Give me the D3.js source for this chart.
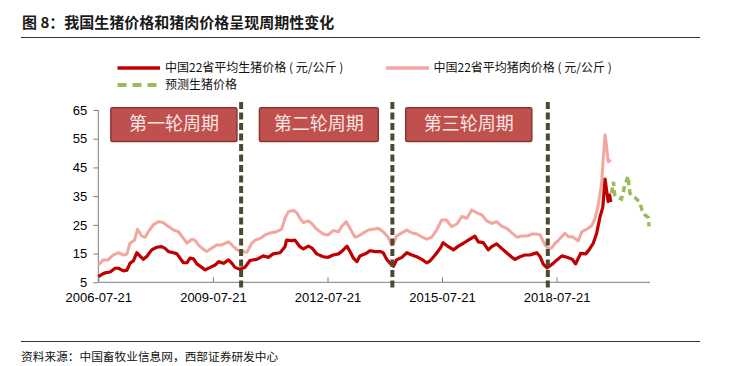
<!DOCTYPE html>
<html><head><meta charset="utf-8">
<script src="https://cdn.jsdelivr.net/npm/d3@7"></script>
<style>
html,body{margin:0;padding:0;background:#fff;}
svg{display:block;}
.cjk{font-family:"Noto Sans CJK SC","Noto Sans",sans-serif;}
.num{font-family:"Liberation Sans",Arial,sans-serif;}
</style></head>
<body>
<svg id="chart" width="742" height="366"></svg>
<script>
// ---- data (decimal years) ----
const hogYears = [
 2006.55,2006.68,2006.73,2006.86,2006.99,
 2007.08,2007.21,2007.30,2007.38,2007.47,2007.56,2007.64,2007.73,2007.82,2007.95,
 2008.08,2008.21,2008.30,2008.39,2008.52,2008.61,2008.69,2008.78,2008.87,2008.95,
 2009.04,2009.13,2009.26,2009.35,2009.48,2009.61,2009.70,2009.83,2009.96,
 2010.05,2010.13,2010.26,2010.34,2010.39,2010.52,2010.70,2010.87,
 2011.00,2011.13,2011.31,2011.44,2011.48,2011.62,2011.70,2011.83,2011.92,
 2012.05,2012.14,2012.27,2012.44,2012.57,2012.70,2012.84,2012.92,
 2013.06,2013.14,2013.23,2013.32,2013.40,2013.54,2013.67,2013.80,2013.93,
 2014.01,2014.10,2014.23,2014.28,2014.36,2014.50,2014.63,2014.76,2014.89,
 2015.02,2015.15,2015.24,2015.37,2015.50,2015.58,2015.72,2015.85,2015.98,
 2016.11,2016.24,2016.41,2016.50,2016.63,2016.76,2016.85,2016.98,
 2017.11,2017.24,2017.38,2017.46,2017.59,2017.72,2017.85,2017.94,
 2018.03,2018.12,2018.20,2018.30,2018.46,2018.56,2018.69,2018.82,2018.96,
 2019.05,2019.18,2019.31,2019.40,2019.51,2019.60,2019.69,2019.76,2019.82,2019.85,2019.90,2019.94,2019.97];
const hogValues = [
 7.0,8.0,8.3,8.6,9.9,
 9.9,9.0,9.2,11.6,12.5,15.3,14.2,13.0,14.0,16.3,
 17.2,17.4,16.8,15.7,15.3,14.9,13.4,11.8,11.8,13.4,
 13.2,11.4,10.2,9.3,10.2,11.0,12.2,11.6,12.8,
 11.6,10.2,9.5,10.0,10.2,12.6,13.0,14.2,
 13.7,14.9,15.3,17.4,19.7,19.5,19.7,17.4,16.6,
 17.6,17.0,14.9,13.9,13.7,14.5,14.9,15.7,
 17.6,15.7,13.4,12.2,14.2,14.9,16.0,15.7,15.7,
 15.3,13.0,11.0,10.6,12.8,13.7,15.3,14.5,13.9,
 13.0,11.8,12.5,14.5,16.8,18.8,17.4,16.3,17.6,
 18.6,19.7,21.1,19.1,18.8,16.3,17.4,18.4,
 16.8,15.3,13.7,13.0,13.9,14.5,14.5,14.9,
 15.3,13.9,11.3,10.0,11.6,12.8,14.2,13.7,13.0,
 11.4,15.1,14.9,16.3,18.6,22.1,27.9,31.1,40.9,38.0,33.1,35.4,33.0];

const porkYears = [
 2006.55,2006.68,2006.81,2006.94,
 2007.08,2007.21,2007.30,2007.38,2007.50,2007.58,2007.69,2007.78,2007.86,2007.99,
 2008.12,2008.25,2008.39,2008.52,2008.65,2008.78,2008.87,
 2009.00,2009.08,2009.17,2009.30,2009.39,2009.52,2009.65,2009.78,2009.96,
 2010.05,2010.18,2010.31,2010.44,2010.57,2010.66,2010.79,2010.92,
 2011.05,2011.22,2011.35,2011.44,2011.53,2011.66,2011.75,2011.83,2011.92,
 2012.05,2012.14,2012.27,2012.44,2012.57,2012.70,2012.84,2012.92,
 2013.04,2013.14,2013.27,2013.36,2013.49,2013.62,2013.75,2013.88,
 2014.01,2014.14,2014.23,2014.28,2014.36,2014.50,2014.63,2014.76,2014.89,
 2015.02,2015.15,2015.28,2015.41,2015.54,2015.67,2015.80,2015.94,
 2016.07,2016.20,2016.33,2016.46,2016.59,2016.72,2016.85,2016.98,
 2017.11,2017.24,2017.38,2017.51,2017.64,2017.77,2017.90,
 2018.03,2018.12,2018.16,2018.25,2018.33,2018.42,2018.51,2018.59,2018.64,2018.77,2018.86,2018.96,
 2019.12,2019.21,2019.34,2019.47,2019.56,2019.64,2019.73,2019.77,2019.82,2019.86,2019.90,2019.97];
const porkValues = [
 11.0,12.8,12.8,14.5,
 15.3,14.5,14.8,18.6,19.7,23.5,21.1,20.7,22.6,25.0,
 26.1,25.8,24.4,23.2,22.6,20.3,18.6,
 20.0,19.7,18.0,16.5,15.7,16.9,18.0,18.0,19.1,
 18.0,16.3,15.7,15.5,18.6,19.7,20.3,21.5,
 22.2,22.6,23.5,27.3,29.6,30.0,29.2,27.3,25.8,
 26.4,25.5,23.5,21.8,21.5,23.0,22.6,24.4,
 26.1,23.8,20.7,21.1,22.2,23.2,23.5,23.8,
 22.6,20.7,18.0,18.5,21.1,22.2,23.2,22.2,21.8,
 20.8,20.0,20.7,23.2,26.7,26.7,24.4,25.3,
 27.9,27.3,30.2,29.2,28.5,26.4,25.5,26.1,
 24.6,23.8,22.2,20.7,21.1,21.1,21.8,
 21.8,21.5,20.3,18.0,16.8,17.0,18.6,19.5,20.3,22.1,20.9,20.9,
 19.5,22.6,23.5,24.7,27.3,31.9,39.5,47.6,56.3,52.2,47.0,47.6];

const forecastYears = [2019.99,2020.04,2020.07,2020.17,2020.25,2020.33,2020.42,2020.47,2020.60,2020.72,2020.79,2020.86,2020.95,2020.97];
const forecastValues = [36.0,40.0,35.5,34.5,34.0,38.5,42.0,36.0,34.5,33.0,30.0,28.5,27.5,24.5];

const xTickLabels = ["2006-07-21","2009-07-21","2012-07-21","2015-07-21","2018-07-21"];
const yTickValues = [5,15,25,35,45,55,65];
const cycleNames = ["第一轮周期","第二轮周期","第三轮周期"];
const cycleStart = [2006.88, 2010.77, 2014.60];
const cycleEnd   = [2010.18, 2013.88, 2017.90];
const dividerYears = [2010.29, 2014.25, 2018.32];

const seriesNames = ["中国22省平均生猪价格 ( 元/公斤 )","中国22省平均猪肉价格 ( 元/公斤 )","预测生猪价格"];
const colors = {hog:"#c00000", pork:"#f3a6a0", fc:"#9bbb59", div:"#4b4a33", box:"#c0504d"};

// ---- helpers ----
function yrToDate(y){
  const yr = Math.floor(y);
  const a = new Date(yr,0,1), b = new Date(yr+1,0,1);
  return new Date(+a + (y-yr)*(b-a));
}
const parse = d3.timeParse("%Y-%m-%d");
const zip = (ys, vs) => ys.map((y,i)=>({d:yrToDate(y), v:vs[i]}));

const svg = d3.select("#chart");
svg.append("rect").attr("width",742).attr("height",366).attr("fill","#fff");

const x = d3.scaleTime().domain([parse("2006-07-21"), parse("2020-12-30")]).range([98.3, 650]);
const y = d3.scaleLinear().domain([5,65]).range([282.3,110]);

// title
svg.append("text").attr("class","cjk").attr("x",22).attr("y",28)
  .attr("font-size",15).attr("font-weight","bold").attr("fill","#1a1a1a")
  .text("图 8：我国生猪价格和猪肉价格呈现周期性变化");
svg.append("line").attr("x1",21).attr("x2",700).attr("y1",37.5).attr("y2",37.5)
  .attr("stroke","#333").attr("stroke-width",1);

// legend
const lg = svg.append("g");
lg.append("line").attr("x1",117.5).attr("x2",160).attr("y1",68).attr("y2",68).attr("stroke",colors.hog).attr("stroke-width",3.5);
lg.append("text").attr("class","cjk").attr("x",165).attr("y",72.3).attr("font-size",12).attr("fill","#111").attr("xml:space","preserve").text(seriesNames[0]);
lg.append("line").attr("x1",386).attr("x2",429).attr("y1",68).attr("y2",68).attr("stroke",colors.pork).attr("stroke-width",3.5);
lg.append("text").attr("class","cjk").attr("x",433.5).attr("y",72.3).attr("font-size",12).attr("fill","#111").attr("xml:space","preserve").text(seriesNames[1]);
lg.append("line").attr("x1",117.5).attr("x2",157).attr("y1",85).attr("y2",85).attr("stroke",colors.fc).attr("stroke-width",4).attr("stroke-dasharray","9,6");
lg.append("text").attr("class","cjk").attr("x",165).attr("y",89.3).attr("font-size",12).attr("fill","#111").text(seriesNames[2]);

// axes
const yAxis = svg.append("g").attr("transform","translate(98.3,0)")
  .call(d3.axisLeft(y).tickValues(yTickValues).tickSize(5).tickPadding(6).tickFormat(d3.format("d")));
const xAxis = svg.append("g").attr("transform","translate(0,282.3)")
  .call(d3.axisBottom(x).tickValues(xTickLabels.map(parse)).tickSize(-5).tickPadding(10)
        .tickFormat((d,i)=>xTickLabels[i]));
[yAxis,xAxis].forEach(g=>{
  g.selectAll("path").attr("stroke","#7f7f7f").attr("stroke-width",1);
  g.selectAll("line").attr("stroke","#7f7f7f");
  g.selectAll("text").attr("class","num").attr("font-size",13).attr("fill","#000");
});
yAxis.select(".domain").attr("d","M0,282.3V110");
xAxis.select(".domain").attr("d","M98.3,0H650");

// lines
const line = d3.line().x(d=>x(d.d)).y(d=>y(d.v)).curve(d3.curveLinear);
svg.append("path").datum(zip(porkYears,porkValues)).attr("d",line)
  .attr("fill","none").attr("stroke",colors.pork).attr("stroke-width",3).attr("stroke-linejoin","round");
svg.append("path").datum(zip(hogYears,hogValues)).attr("d",line)
  .attr("fill","none").attr("stroke",colors.hog).attr("stroke-width",3.2).attr("stroke-linejoin","round");
svg.append("path").datum(zip(forecastYears,forecastValues)).attr("d",line)
  .attr("fill","none").attr("stroke",colors.fc).attr("stroke-width",3.5).attr("stroke-dasharray","6,4");

// dividers
svg.append("g").selectAll("line").data(dividerYears).join("line")
  .attr("x1",d=>x(yrToDate(d))).attr("x2",d=>x(yrToDate(d)))
  .attr("y1",102).attr("y2",289)
  .attr("stroke",colors.div).attr("stroke-width",4).attr("stroke-dasharray","7,3.5");

// cycle boxes
const bx = svg.append("g").selectAll("g").data(cycleNames).join("g");
bx.append("rect")
  .attr("x",(d,i)=>x(yrToDate(cycleStart[i])))
  .attr("width",(d,i)=>x(yrToDate(cycleEnd[i]))-x(yrToDate(cycleStart[i])))
  .attr("y",y(65.8)).attr("height",y(54)-y(65.8))
  .attr("fill",colors.box).attr("stroke","#8f3331").attr("stroke-width",1.5).attr("rx",1.5);
bx.append("text").attr("class","cjk")
  .attr("x",(d,i)=>(x(yrToDate(cycleStart[i]))+x(yrToDate(cycleEnd[i])))/2)
  .attr("y",y(60.1)).attr("dy","0.35em").attr("text-anchor","middle")
  .attr("font-size",18).attr("fill","#fbe6e4").text(d=>d);

// source
svg.append("line").attr("x1",21).attr("x2",700).attr("y1",341.5).attr("y2",341.5)
  .attr("stroke","#333").attr("stroke-width",1);
svg.append("text").attr("class","cjk").attr("x",21).attr("y",361).attr("font-size",11.7).attr("fill","#111")
  .text("资料来源：中国畜牧业信息网，西部证券研发中心");
</script>
</body></html>
